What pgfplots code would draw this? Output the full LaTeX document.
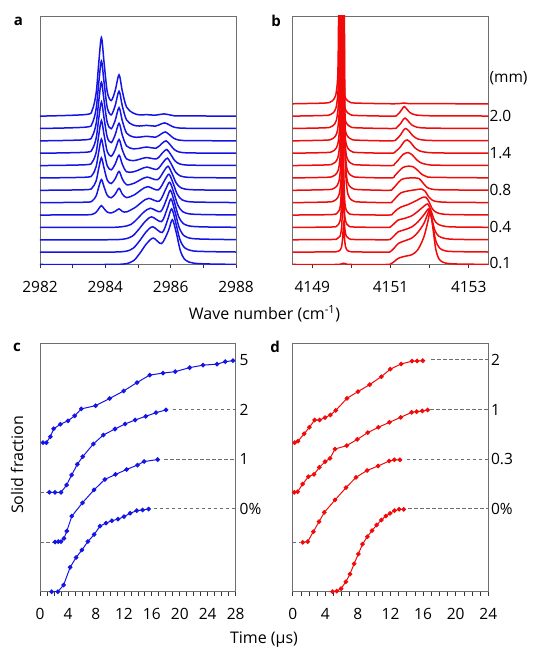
\documentclass[border=0pt]{standalone}
\usepackage{fontspec}
\setmainfont{Open Sans}
\usepackage{pgfplots}
\pgfplotsset{compat=1.18}
\definecolor{sblue}{RGB}{20,20,230}
\definecolor{sred}{RGB}{240,10,10}
\definecolor{frame}{RGB}{110,110,110}
\newcommand\tfont{\fontsize{15.5}{17}\selectfont}
\pgfplotsset{
  panel/.style={scale only axis, clip mode=individual,
    axis line style={frame, line width=0.8pt},
    ytick=\empty, tick align=outside, xtick pos=bottom,
    major tick length=4pt, minor tick length=4pt,
    tick style={black!80, line width=0.7pt},
    /pgf/number format/assume math mode=true,
    /pgf/number format/1000 sep={},
    scaled x ticks=false,
    ticklabel style={font=\tfont},
    xticklabel style={yshift=-9pt}},
  spec/.style={smooth, line width=1.5pt, no marks, solid},
  kin/.style={line width=1pt, mark=*, mark size=1.8pt, solid, mark options={solid}},
  dsh/.style={frame, line width=0.8pt, dash pattern=on 3.5pt off 2.5pt, no marks}
}
\begin{document}
\begin{tikzpicture}
\path[use as bounding box] (0pt,0pt) rectangle (545pt,656pt);
% ---------------- panel a ----------------
\begin{axis}[panel, at={(40pt,391.5pt)}, anchor=south west, width=196pt, height=248.5pt,
  xmin=2982, xmax=2988, ymin=0, ymax=20.1,
  xtick={2982,2983,...,2988}, xticklabels={2982,,2984,,2986,,2988},
  cycle list={{sblue}},
  every axis plot/.append style={spec, color=sblue}]
\addplot coordinates {(2982,0)(2984.0,0)(2984.6,0.05)(2984.87,0.32)(2985.07,0.96)(2985.27,1.71)(2985.47,2.14)(2985.72,1.69)(2985.93,2.72)(2986.05,3.62)(2986.17,2.6)(2986.3,1.09)(2986.45,0.36)(2986.7,0.11)(2987.2,0.04)(2988,0.01)};
\addplot coordinates {(2982,1)(2984,1)(2984.6,1.06)(2984.85,1.31)(2985.05,1.92)(2985.25,2.64)(2985.45,3.05)(2985.74,2.59)(2985.91,3.63)(2986.03,4.5)(2986.15,3.45)(2986.28,2.05)(2986.43,1.35)(2986.68,1.1)(2987.2,1.04)(2988,1.01)};
\addplot coordinates {(2982,2)(2984,2)(2984.55,2.05)(2984.82,2.28)(2985.02,2.83)(2985.22,3.48)(2985.42,3.85)(2985.72,3.47)(2985.89,4.48)(2986.01,5.3)(2986.13,4.31)(2986.26,2.99)(2986.41,2.33)(2986.66,2.1)(2987.2,2.04)(2988,2.01)};
\addplot coordinates {(2982,3)(2984,3)(2984.5,3.05)(2984.78,3.23)(2984.98,3.7)(2985.18,4.24)(2985.38,4.55)(2985.69,4.28)(2985.87,5.25)(2985.99,6.0)(2986.11,5.1)(2986.24,3.9)(2986.39,3.3)(2986.64,3.09)(2987.2,3.03)(2988,3.01)};
\addplot coordinates {(2982,4)(2983.4,4.02)(2983.6,4.06)(2983.72,4.23)(2983.8,4.52)(2983.88,4.76)(2983.96,4.52)(2984.06,4.24)(2984.18,4.17)(2984.3,4.3)(2984.42,4.5)(2984.52,4.3)(2984.65,4.25)(2984.93,4.64)(2985.13,5.08)(2985.33,5.35)(2985.65,5.12)(2985.85,6.1)(2985.97,6.65)(2986.09,5.86)(2986.22,4.8)(2986.37,4.27)(2986.62,4.08)(2987.2,4.03)(2988,4.01)};
\addplot coordinates {(2982,5)(2983.4,5.04)(2983.6,5.15)(2983.72,5.56)(2983.8,6.28)(2983.88,6.87)(2983.96,6.29)(2984.06,5.59)(2984.18,5.4)(2984.3,5.69)(2984.42,6.16)(2984.52,5.7)(2984.65,5.41)(2984.9,5.65)(2985.1,6.04)(2985.3,6.3)(2985.62,6.03)(2985.83,6.88)(2985.95,7.3)(2986.07,6.61)(2986.2,5.69)(2986.35,5.23)(2986.6,5.07)(2987.2,5.03)(2988,5.01)};
\addplot coordinates {(2982,6)(2983.4,6.05)(2983.6,6.21)(2983.72,6.78)(2983.8,7.8)(2983.88,8.63)(2983.96,7.81)(2984.06,6.82)(2984.18,6.55)(2984.3,6.93)(2984.42,7.53)(2984.52,6.92)(2984.65,6.45)(2984.88,6.57)(2985.08,6.86)(2985.28,7.07)(2985.6,6.86)(2985.8,7.58)(2985.92,7.95)(2986.04,7.37)(2986.17,6.59)(2986.32,6.2)(2986.57,6.06)(2987.2,6.02)(2988,6.01)};
\addplot coordinates {(2982,7)(2983.4,7.06)(2983.6,7.25)(2983.72,7.93)(2983.8,9.14)(2983.88,10.14)(2983.96,9.16)(2984.06,7.97)(2984.18,7.66)(2984.3,8.12)(2984.42,8.84)(2984.52,8.11)(2984.65,7.5)(2984.87,7.5)(2985.07,7.7)(2985.27,7.88)(2985.58,7.7)(2985.78,8.3)(2985.9,8.6)(2986.02,8.12)(2986.15,7.48)(2986.3,7.16)(2986.55,7.05)(2987.2,7.02)(2988,7.01)};
\addplot coordinates {(2982,8)(2983.4,8.07)(2983.6,8.29)(2983.72,9.08)(2983.8,10.49)(2983.88,11.64)(2983.96,10.51)(2984.06,9.13)(2984.18,8.76)(2984.3,9.28)(2984.42,10.11)(2984.52,9.27)(2984.65,8.54)(2984.86,8.4)(2985.06,8.52)(2985.26,8.65)(2985.57,8.55)(2985.76,9.06)(2985.88,9.3)(2986.0,8.91)(2986.13,8.39)(2986.28,8.13)(2986.53,8.04)(2987.2,8.02)(2988,8.01)};
\addplot coordinates {(2982,9)(2983.4,9.08)(2983.6,9.33)(2983.72,10.23)(2983.8,11.84)(2983.88,13.15)(2983.96,11.86)(2984.06,10.29)(2984.18,9.86)(2984.3,10.48)(2984.42,11.42)(2984.52,10.46)(2984.65,9.59)(2984.85,9.36)(2985.05,9.4)(2985.25,9.5)(2985.56,9.42)(2985.74,9.81)(2985.86,10.0)(2985.98,9.7)(2986.11,9.3)(2986.26,9.1)(2986.51,9.03)(2987.2,9.01)(2988,9.0)};
\addplot coordinates {(2982,10)(2983.4,10.09)(2983.6,10.38)(2983.72,11.41)(2983.8,13.25)(2983.88,14.75)(2983.96,13.28)(2984.06,11.47)(2984.18,10.98)(2984.3,11.64)(2984.42,12.69)(2984.52,11.62)(2984.65,10.63)(2984.85,10.32)(2985.05,10.3)(2985.25,10.37)(2985.55,10.31)(2985.72,10.58)(2985.84,10.72)(2985.96,10.5)(2986.09,10.22)(2986.24,10.07)(2986.49,10.02)(2987.2,10.01)(2988,10.0)};
\addplot coordinates {(2982,11)(2983.4,11.11)(2983.6,11.43)(2983.72,12.62)(2983.8,14.73)(2983.88,16.46)(2983.96,14.76)(2984.06,12.68)(2984.18,12.1)(2984.3,12.84)(2984.42,14.01)(2984.52,12.82)(2984.65,11.69)(2984.85,11.28)(2985.05,11.2)(2985.25,11.25)(2985.54,11.2)(2985.7,11.36)(2985.82,11.45)(2985.94,11.32)(2986.07,11.14)(2986.22,11.05)(2986.47,11.02)(2987.2,11.01)(2988,11.0)};
\addplot coordinates {(2982,12)(2983.4,12.13)(2983.6,12.5)(2983.72,13.89)(2983.8,16.34)(2983.88,18.36)(2983.96,16.37)(2984.06,13.95)(2984.18,13.26)(2984.3,14.05)(2984.42,15.34)(2984.52,14.02)(2984.65,12.73)(2984.85,12.25)(2985.05,12.1)(2985.25,12.12)(2985.52,12.08)(2985.68,12.14)(2985.8,12.18)(2985.92,12.13)(2986.05,12.06)(2986.2,12.02)(2987.2,12.01)(2988,12.0)};
\end{axis}
% ---------------- panel b ----------------
\begin{axis}[panel, at={(292.7pt,391.5pt)}, anchor=south west, width=195.6pt, height=248.5pt,
  xmin=4148.5, xmax=4153.5, ymin=0, ymax=20.1,
  xtick={4149,4150,...,4153}, xticklabels={4149,,4151,,4153},
  cycle list={{sred}},
  every axis plot/.append style={spec, color=sred}]
\addplot coordinates {(4148.5,0)(4149.6,0)(4149.72,0.03)(4149.8,0.1)(4149.88,0.03)(4150,0)(4150.9,0)(4151.0,0.04)(4151.1,0.25)(4151.2,0.5)(4151.35,0.65)(4151.55,0.8)(4151.7,1.2)(4151.85,2.2)(4151.95,3.4)(4152.02,4.3)(4152.09,2.8)(4152.16,1.2)(4152.25,0.4)(4152.4,0.12)(4152.7,0.04)(4153.5,0.01)};
\addplot coordinates {(4148.5,1)(4149.5,1.02)(4149.6,1.03)(4149.7,1.13)(4149.75,1.44)(4149.775,2.1)(4149.8,3.2)(4149.825,2.1)(4149.85,1.44)(4149.9,1.13)(4150,1.03)(4150.3,1.01)(4150.9,1)(4151.0,1.05)(4151.1,1.35)(4151.2,1.7)(4151.35,1.9)(4151.55,2.15)(4151.7,2.6)(4151.85,3.3)(4151.94,4.0)(4152.0,4.4)(4152.07,3.4)(4152.15,2.0)(4152.25,1.35)(4152.4,1.1)(4152.7,1.04)(4153.5,1.01)};
\addplot coordinates {(4148.5,2)(4149.49,2.02)(4149.64,2.09)(4149.71,2.29)(4149.75,3.0)(4149.77,4.5)(4149.79,7)(4149.81,4.5)(4149.83,3.0)(4149.87,2.29)(4149.94,2.09)(4150.09,2.02)(4150.9,2)(4151.0,2.05)(4151.1,2.35)(4151.2,2.65)(4151.35,2.8)(4151.55,3.05)(4151.7,3.45)(4151.85,4.0)(4151.98,4.5)(4152.05,3.8)(4152.13,2.8)(4152.23,2.3)(4152.4,2.1)(4152.7,2.03)(4153.5,2.01)};
\addplot coordinates {(4148.5,3)(4149.48,3.03)(4149.63,3.12)(4149.71,3.53)(4149.745,4.8)(4149.765,8.2)(4149.78,12)(4149.795,8.2)(4149.815,4.8)(4149.85,3.53)(4149.93,3.12)(4150.08,3.03)(4150.9,3)(4151.0,3.05)(4151.1,3.33)(4151.2,3.6)(4151.35,3.72)(4151.55,3.95)(4151.7,4.3)(4151.85,4.7)(4151.95,4.9)(4152.03,4.4)(4152.12,3.6)(4152.22,3.25)(4152.4,3.08)(4152.7,3.03)(4153.5,3.01)};
\addplot coordinates {(4148.5,4)(4149.48,4.035)(4149.63,4.14)(4149.69,4.38)(4149.73,5.16)(4149.755,7.7)(4149.768,12.5)(4149.78,18)(4149.792,12.5)(4149.805,7.7)(4149.83,5.16)(4149.87,4.38)(4149.93,4.14)(4150.08,4.035)(4150.95,4)(4151.05,4.1)(4151.15,4.4)(4151.27,4.65)(4151.45,4.85)(4151.65,5.15)(4151.8,5.4)(4151.9,5.45)(4151.98,5.1)(4152.07,4.5)(4152.18,4.2)(4152.35,4.07)(4152.7,4.03)(4153.5,4.01)};
\addplot coordinates {(4148.5,5)(4149.40,5.056)(4149.55,5.14)(4149.65,5.4)(4149.71,6.08)(4149.75,8.3)(4149.775,18)(4149.788,33)(4149.80,45)(4149.812,33)(4149.825,18)(4149.85,8.3)(4149.89,6.08)(4149.95,5.4)(4150.05,5.14)(4150.20,5.056)(4150.95,5)(4151.05,5.1)(4151.15,5.45)(4151.27,5.8)(4151.45,5.95)(4151.65,6.05)(4151.8,6.1)(4151.88,5.95)(4151.97,5.5)(4152.07,5.2)(4152.2,5.08)(4152.5,5.03)(4153.5,5.01)};
\addplot coordinates {(4148.5,6)(4149.39,6.056)(4149.54,6.14)(4149.64,6.4)(4149.70,7.08)(4149.74,9.3)(4149.765,19)(4149.778,34)(4149.79,46)(4149.802,34)(4149.815,19)(4149.84,9.3)(4149.88,7.08)(4149.94,6.4)(4150.04,6.14)(4150.19,6.056)(4150.95,6)(4151.05,6.1)(4151.15,6.45)(4151.27,6.85)(4151.4,6.98)(4151.6,7.0)(4151.73,6.95)(4151.83,6.6)(4151.93,6.25)(4152.05,6.1)(4152.3,6.04)(4153.5,6.01)};
\addplot coordinates {(4148.5,7)(4149.38,7.056)(4149.53,7.14)(4149.63,7.4)(4149.69,8.08)(4149.73,10.3)(4149.755,20)(4149.768,35)(4149.78,47)(4149.792,35)(4149.805,20)(4149.83,10.3)(4149.87,8.08)(4149.93,7.4)(4150.03,7.14)(4150.18,7.056)(4151.0,7)(4151.1,7.15)(4151.2,7.5)(4151.32,7.85)(4151.45,7.95)(4151.58,7.9)(4151.7,7.6)(4151.8,7.3)(4151.92,7.12)(4152.1,7.05)(4153.5,7.01)};
\addplot coordinates {(4148.5,8)(4149.37,8.056)(4149.52,8.14)(4149.62,8.4)(4149.68,9.08)(4149.72,11.3)(4149.745,21)(4149.758,36)(4149.77,48)(4149.782,36)(4149.795,21)(4149.82,11.3)(4149.86,9.08)(4149.92,8.4)(4150.02,8.14)(4150.17,8.056)(4151.0,8)(4151.1,8.12)(4151.2,8.45)(4151.32,8.9)(4151.45,9.05)(4151.56,8.85)(4151.66,8.5)(4151.78,8.22)(4151.95,8.08)(4152.2,8.03)(4153.5,8.01)};
\addplot coordinates {(4148.5,9)(4149.36,9.056)(4149.51,9.14)(4149.61,9.4)(4149.67,10.08)(4149.71,12.3)(4149.735,22)(4149.748,37)(4149.76,49)(4149.772,37)(4149.785,22)(4149.81,12.3)(4149.85,10.08)(4149.91,9.4)(4150.01,9.14)(4150.16,9.056)(4151.0,9)(4151.12,9.12)(4151.25,9.5)(4151.35,9.95)(4151.43,10.07)(4151.52,9.85)(4151.62,9.45)(4151.75,9.18)(4151.95,9.06)(4152.3,9.02)(4153.5,9.01)};
\addplot coordinates {(4148.5,10)(4149.345,10.056)(4149.495,10.14)(4149.595,10.4)(4149.655,11.08)(4149.695,13.3)(4149.72,23)(4149.733,38)(4149.745,50)(4149.757,38)(4149.77,23)(4149.795,13.3)(4149.835,11.08)(4149.895,10.4)(4149.995,10.14)(4150.145,10.056)(4151.02,10)(4151.15,10.12)(4151.26,10.5)(4151.33,10.85)(4151.39,11.0)(4151.47,10.8)(4151.57,10.42)(4151.7,10.15)(4151.9,10.05)(4152.3,10.02)(4153.5,10.01)};
\addplot coordinates {(4148.5,11)(4149.33,11.056)(4149.48,11.14)(4149.58,11.4)(4149.64,12.08)(4149.68,14.3)(4149.705,24)(4149.718,39)(4149.73,51)(4149.742,39)(4149.755,24)(4149.78,14.3)(4149.82,12.08)(4149.88,11.4)(4149.98,11.14)(4150.13,11.056)(4151.05,11)(4151.17,11.12)(4151.27,11.45)(4151.32,11.7)(4151.37,11.84)(4151.44,11.65)(4151.54,11.3)(4151.68,11.1)(4151.9,11.04)(4152.3,11.02)(4153.5,11.01)};
\addplot coordinates {(4148.5,12)(4149.32,12.056)(4149.47,12.14)(4149.57,12.4)(4149.63,13.08)(4149.67,15.3)(4149.695,25)(4149.708,40)(4149.72,52)(4149.732,40)(4149.745,25)(4149.77,15.3)(4149.81,13.08)(4149.87,12.4)(4149.97,12.14)(4150.12,12.056)(4151.05,12)(4151.17,12.1)(4151.26,12.4)(4151.31,12.65)(4151.35,12.78)(4151.41,12.6)(4151.5,12.28)(4151.64,12.1)(4151.9,12.04)(4152.3,12.02)(4153.5,12.01)};
\addplot coordinates {(4148.5,13)(4149.31,13.056)(4149.46,13.14)(4149.56,13.4)(4149.62,14.08)(4149.66,16.3)(4149.685,26)(4149.698,41)(4149.71,53)(4149.722,41)(4149.735,26)(4149.76,16.3)(4149.80,14.08)(4149.86,13.4)(4149.96,13.14)(4150.11,13.056)(4151.1,13)(4151.35,13.06)(4151.6,13.01)(4153.5,13.0)};
\node[anchor=west, inner sep=1pt, font=\tfont] at (axis cs:4153.5,15.05) {(mm)};
\node[anchor=west, inner sep=1pt, font=\tfont] at (axis cs:4153.5,12) {2.0};
\node[anchor=west, inner sep=1pt, font=\tfont] at (axis cs:4153.5,9) {1.4};
\node[anchor=west, inner sep=1pt, font=\tfont] at (axis cs:4153.5,6) {0.8};
\node[anchor=west, inner sep=1pt, font=\tfont] at (axis cs:4153.5,3) {0.4};
\node[anchor=west, inner sep=1pt, font=\tfont] at (axis cs:4153.5,0.1) {0.1};
\end{axis}
% ---------------- panel c ----------------
\begin{axis}[panel, at={(40pt,64.3pt)}, anchor=south west, width=195.7pt, height=248.4pt,
  xmin=0, xmax=28, ymin=0, ymax=5,
  xtick={0,4,...,28}, minor xtick={0,1,...,28},
  cycle list={{sblue}},
  every axis plot/.append style={kin, color=sblue}]
\addplot[dsh] coordinates {(16.3,1.667)(28,1.667)};
\addplot[dsh] coordinates {(17.8,2.667)(28,2.667)};
\addplot[dsh] coordinates {(19.0,3.667)(28,3.667)};
\addplot[dsh] coordinates {(0,1)(2.0,1)};
\addplot[dsh] coordinates {(0,2)(1.15,2)};
\addplot coordinates {(1.67,0)(2.55,0)(3.38,0.134)(4.31,0.49)(5.17,0.69)(6.0,0.84)(6.85,1.01)(7.75,1.15)(8.58,1.32)(9.45,1.38)(10.28,1.43)(11.16,1.46)(12.02,1.51)(12.9,1.58)(13.84,1.63)(14.68,1.645)(15.53,1.664)};
\addplot coordinates {(2.15,1.0)(2.62,1.007)(3.0,1.007)(3.43,1.074)(3.84,1.22)(4.55,1.52)(6.08,1.79)(7.73,2.05)(9.28,2.26)(10.8,2.36)(12.38,2.46)(13.95,2.55)(14.9,2.62)(16.84,2.66)};
\addplot coordinates {(1.34,2.0)(2.15,2.0)(3.0,2.0)(3.82,2.148)(4.53,2.349)(5.34,2.564)(6.11,2.718)(7.63,2.973)(9.06,3.154)(10.73,3.275)(12.17,3.376)(13.6,3.456)(15.12,3.53)(16.6,3.604)(18.03,3.658)};
\addplot coordinates {(0.43,3.0)(0.91,3.0)(1.48,3.12)(1.96,3.28)(2.91,3.37)(4.0,3.44)(4.96,3.54)(5.91,3.68)(7.96,3.745)(9.97,3.89)(11.97,4.04)(13.88,4.21)(15.69,4.36)(17.6,4.40)(19.36,4.43)(21.41,4.51)(23.32,4.56)(25.32,4.58)(26.51,4.63)(27.61,4.65)};
\node[anchor=west, inner sep=1pt, font=\tfont] at (axis cs:28.4,4.667) {5};
\node[anchor=west, inner sep=1pt, font=\tfont] at (axis cs:28.4,3.667) {2};
\node[anchor=west, inner sep=1pt, font=\tfont] at (axis cs:28.4,2.667) {1};
\node[anchor=west, inner sep=1pt, font=\tfont] at (axis cs:28.4,1.667) {0\%};
\end{axis}
% ---------------- panel d ----------------
\begin{axis}[panel, at={(292.7pt,64.3pt)}, anchor=south west, width=195.6pt, height=248.4pt,
  xmin=0, xmax=24, ymin=0, ymax=5,
  xtick={0,4,...,24}, minor xtick={0,1,...,24},
  cycle list={{sred}},
  every axis plot/.append style={kin, color=sred}]
\addplot[dsh] coordinates {(14.2,1.667)(24,1.667)};
\addplot[dsh] coordinates {(14.0,2.667)(24,2.667)};
\addplot[dsh] coordinates {(16.9,3.667)(24,3.667)};
\addplot[dsh] coordinates {(17.0,4.667)(24,4.667)};
\addplot[dsh] coordinates {(0,1)(0.9,1)};
\addplot coordinates {(4.88,0)(5.4,0.013)(5.93,0.06)(6.52,0.2)(7.03,0.356)(7.54,0.564)(8.05,0.758)(8.56,0.956)(9.16,1.108)(9.73,1.229)(10.3,1.341)(10.87,1.443)(11.43,1.523)(11.94,1.577)(12.49,1.631)(13.06,1.658)(13.62,1.658)};
\addplot coordinates {(1.23,0.993)(1.84,1.007)(2.53,1.208)(3.23,1.409)(3.88,1.597)(5.19,1.846)(6.54,2.094)(7.77,2.302)(9.12,2.44)(10.47,2.53)(11.84,2.63)(12.47,2.655)(13.16,2.655)};
\addplot coordinates {(0.2,2.0)(0.61,2.013)(1.23,2.168)(1.92,2.315)(2.62,2.362)(3.27,2.503)(3.97,2.617)(4.58,2.685)(5.19,2.872)(6.62,2.94)(7.93,3.067)(9.2,3.201)(10.51,3.309)(11.86,3.409)(13.25,3.51)(14.6,3.611)(15.21,3.624)(15.9,3.638)(16.56,3.658)};
\addplot coordinates {(0.24,3.0)(0.65,3.03)(1.41,3.18)(2.04,3.309)(2.7,3.456)(3.31,3.456)(3.97,3.505)(4.62,3.557)(5.29,3.65)(6.66,3.893)(8.01,4.027)(9.44,4.168)(10.88,4.329)(11.98,4.48)(13.3,4.584)(14.64,4.64)(15.27,4.644)(15.97,4.651)};
\node[anchor=west, inner sep=1pt, font=\tfont] at (axis cs:24.2,4.667) {2};
\node[anchor=west, inner sep=1pt, font=\tfont] at (axis cs:24.2,3.667) {1};
\node[anchor=west, inner sep=1pt, font=\tfont] at (axis cs:24.2,2.667) {0.3};
\node[anchor=west, inner sep=1pt, font=\tfont] at (axis cs:24.2,1.667) {0\%};
\end{axis}
% ---------------- labels ----------------
\node[font=\fontsize{15}{17}\selectfont\bfseries] at (18.5pt,635pt) {a};
\node[font=\fontsize{15}{17}\selectfont\bfseries] at (276pt,635pt) {b};
\node[font=\fontsize{15}{17}\selectfont\bfseries] at (17pt,309pt) {c};
\node[font=\fontsize{15}{17}\selectfont\bfseries] at (275pt,309pt) {d};
\node[font=\fontsize{16}{18}\selectfont] at (264.5pt,342pt) {Wave number (cm\textsuperscript{-1})};
\node[font=\fontsize{16}{18}\selectfont] at (264pt,16pt) {Time (μs)};
\node[font=\fontsize{16}{18}\selectfont, rotate=90] at (17pt,191pt) {Solid fraction};
\end{tikzpicture}
\end{document}
